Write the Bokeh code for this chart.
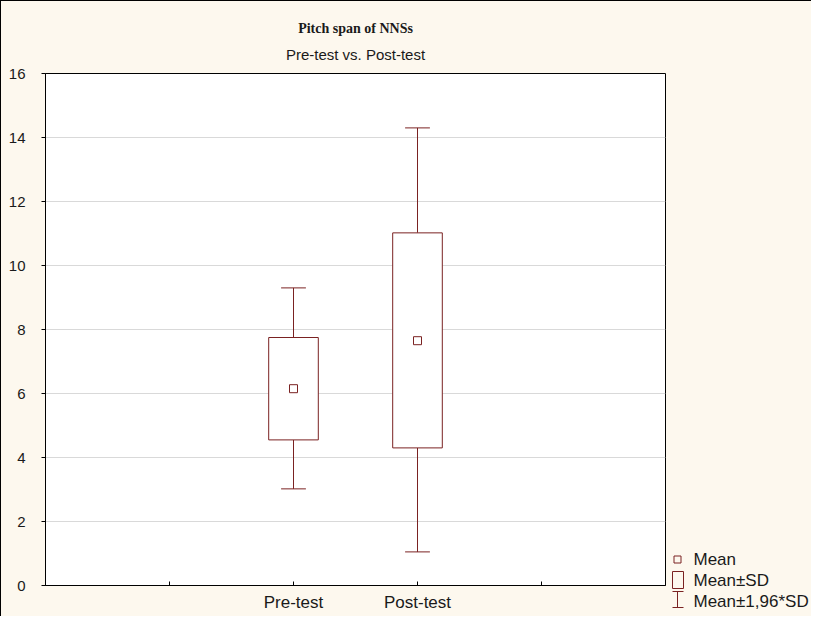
from bokeh.plotting import figure
from bokeh.models import Range1d, FixedTicker, LinearAxis
from bokeh.layouts import row
from bokeh.core.properties import value
from bokeh.embed import file_html
from bokeh.resources import INLINE

# ---- data ----
categories = ["Pre-test", "Post-test"]
means = [6.15, 7.65]
sd_low = [4.55, 4.30]
sd_high = [7.75, 11.02]
ci_low = [3.02, 1.05]
ci_high = [9.30, 14.30]
y_ticks = [0, 2, 4, 6, 8, 10, 12, 14, 16]
legend_labels = ["Mean", "Mean\u00b1SD", "Mean\u00b11,96*SD"]
title_text = "Pitch span of NNSs"
subtitle_text = "Pre-test vs. Post-test"

BG = "#fdf8ee"
RED = "#7a2222"
SANS = "Liberation Sans"
H = 615

xpos = [i + 2 for i in range(len(categories))]

p = figure(width=665, height=H, output_backend="svg", toolbar_location=None,
           x_range=Range1d(0, 5), y_range=Range1d(0, 16),
           min_border_left=44, min_border_right=1, min_border_top=72,
           min_border_bottom=31, background_fill_color="white",
           border_fill_color=BG)
p.outline_line_color = "black"
p.outline_line_alpha = 1.0

xax = p.below[0]
yax = p.left[0]

# subtitle: label of an empty axis above the frame
sub_axis = LinearAxis(ticker=FixedTicker(ticks=[]), axis_label=subtitle_text,
                      axis_line_color=None, major_tick_line_color=None,
                      minor_tick_line_color=None, major_tick_out=0,
                      major_tick_in=0, major_label_standoff=0,
                      axis_label_standoff=11,
                      axis_label_text_font=SANS,
                      axis_label_text_font_size="15px",
                      axis_label_text_font_style="normal",
                      axis_label_text_color="#1a1a1a")
p.add_layout(sub_axis, "above")

# main title
p.title.text = title_text
p.title.align = "center"
p.title.text_font = "Liberation Serif"
p.title.text_font_size = "14px"
p.title.text_font_style = "bold"
p.title.text_color = "#1a1a1a"
p.title.standoff = 13

# axes
xax.ticker = FixedTicker(ticks=[1, 2, 3, 4])
xax.major_label_overrides = {1: "", 2: categories[0], 3: categories[1], 4: ""}
xax.major_tick_in = 4
xax.major_tick_out = 0
xax.minor_tick_line_color = None
xax.major_label_standoff = 7
xax.major_label_text_font = SANS
xax.major_label_text_font_size = "17px"
xax.major_label_text_color = "#1a1a1a"
xax.axis_line_color = "black"
xax.major_tick_line_color = "black"

yax.ticker = FixedTicker(ticks=y_ticks)
yax.major_tick_in = 0
yax.major_tick_out = 4
yax.minor_tick_line_color = None
yax.major_label_standoff = 16
yax.major_label_text_font = SANS
yax.major_label_text_font_size = "15px"
yax.major_label_text_color = "#1a1a1a"
yax.axis_line_color = "black"
yax.major_tick_line_color = "black"

p.xgrid.grid_line_color = None
p.ygrid.grid_line_color = "#d9d9d9"
p.ygrid.ticker = FixedTicker(ticks=y_ticks)

# whiskers (mean +- 1.96 SD)
p.segment(x0=xpos, y0=sd_high, x1=xpos, y1=ci_high, line_color=RED, line_width=1)
p.segment(x0=xpos, y0=ci_low, x1=xpos, y1=sd_low, line_color=RED, line_width=1)
p.segment(x0=[x - 0.1 for x in xpos], y0=ci_high, x1=[x + 0.1 for x in xpos],
          y1=ci_high, line_color=RED, line_width=1)
p.segment(x0=[x - 0.1 for x in xpos], y0=ci_low, x1=[x + 0.1 for x in xpos],
          y1=ci_low, line_color=RED, line_width=1)
# boxes (mean +- SD)
p.vbar(x=xpos, width=0.4, bottom=sd_low, top=sd_high, fill_color="white",
       line_color=RED, line_width=1)
# means
p.scatter(x=xpos, y=means, marker="square", size=8, fill_color=None,
          line_color=RED, line_width=1)

# ---- legend panel (its frame is aligned with the main frame in the row;
#      coordinates below are page pixels, drawn at overlay level so that
#      nothing is clipped to the frame) ----
LW = 145
lg = figure(width=LW, height=H, output_backend="svg", toolbar_location=None,
            x_range=Range1d(667, 667 + LW), y_range=Range1d(586, 74),
            x_axis_type=None, y_axis_type=None,
            min_border=0, background_fill_color=BG, border_fill_color=BG)
lg.grid.visible = False
lg.outline_line_color = None

r1 = lg.scatter(x=[678], y=[560], marker="square", size=7, fill_color=None,
                line_color=RED, line_width=1)
r2 = lg.quad(left=[673], right=[684], top=[572], bottom=[589], fill_color=None,
             line_color=RED, line_width=1)
r3 = lg.segment(x0=[678, 673, 673], y0=[592, 592, 608],
                x1=[678, 684, 684], y1=[608, 592, 608],
                line_color=RED, line_width=1)
r4 = lg.text(x=[694, 694, 694], y=[560, 581, 602], text=legend_labels,
             text_font=value(SANS), text_font_size="17px", text_color="#1a1a1a",
             text_baseline="middle", text_align="left")
for r in (r1, r2, r3, r4):
    r.level = "overlay"

layout = row(p, lg, styles={"border-left": "1px solid black",
                            "border-top": "1px solid black",
                            "background-color": BG})

open("out.html", "w").write(file_html(layout, INLINE))
